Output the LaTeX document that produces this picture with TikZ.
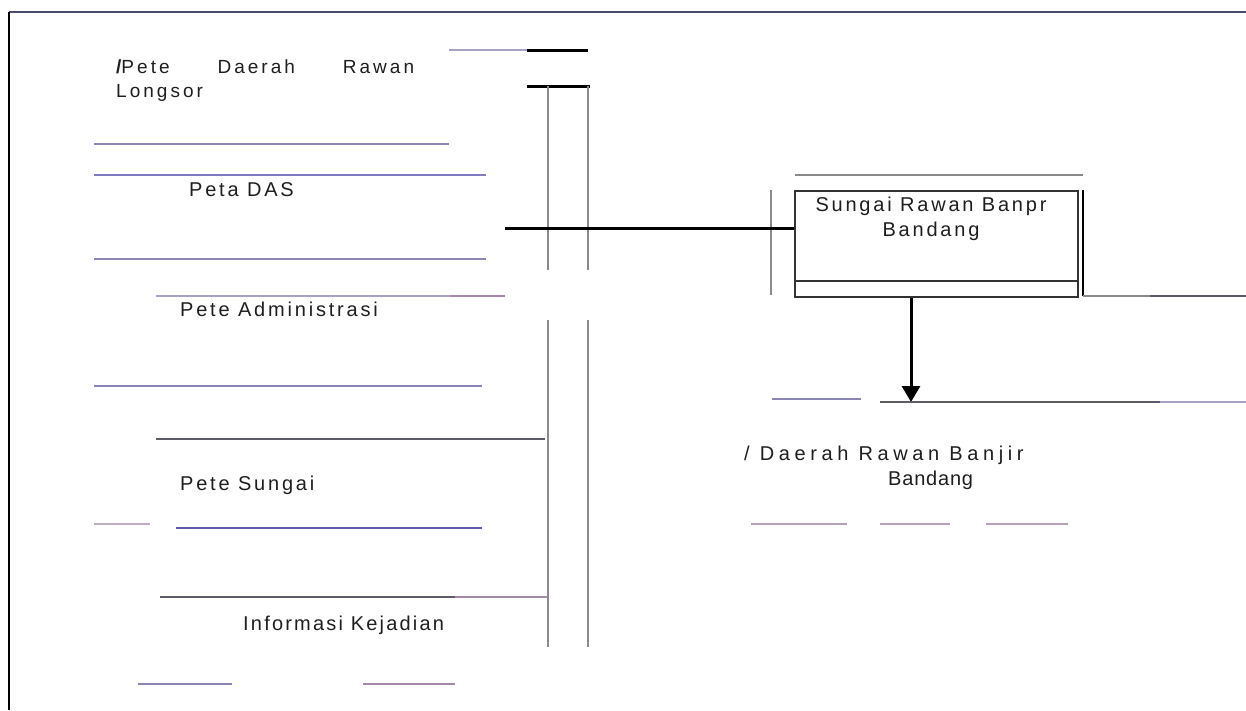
\documentclass[tikz,border=0pt]{standalone}
\usepackage{fontspec}
\setmainfont{Liberation Sans}
\newfontfamily\spaced[LetterSpace=14]{Liberation Sans}
\newfontfamily\tighter[LetterSpace=11]{Liberation Sans}
\newfontfamily\headspaced[LetterSpace=16]{Liberation Sans}
\newfontfamily\widespaced[LetterSpace=23]{Liberation Sans}
\newfontfamily\lightspaced[LetterSpace=4]{Liberation Sans}
\usetikzlibrary{arrows.meta}

\definecolor{frameink}{HTML}{4D4D70}
\definecolor{lavender}{HTML}{A6A2C8}
\definecolor{violet}{HTML}{8985B5}
\definecolor{inkblue}{HTML}{5F5AB0}
\definecolor{mauve}{HTML}{A48AA8}
\definecolor{greyrule}{HTML}{8A8A8A}
\definecolor{darkrule}{HTML}{5C5C66}
\definecolor{textink}{HTML}{1E1E1E}

\begin{document}
\begin{tikzpicture}[x=1pt,y=-1pt,
  rule/.style={line width=1.5pt, line cap=butt},
  heavy/.style={line width=3pt, black},
  lbl/.style={inner sep=0pt, anchor=base west, text=textink,
    font=\spaced\fontsize{20}{24}\selectfont},
  boxline/.style={line width=1.6pt, draw=black!80}]
\useasboundingbox (0,0) rectangle (1246,710);

% page frame
\draw[line width=2.2pt, frameink] (9,12) -- (1246,12);
\draw[line width=2pt, black] (9,12) -- (9,710);

% ---------------- left column: source maps ----------------
\node[lbl, font=\headspaced\fontsize{19}{24}\selectfont, text width=298pt, align=left]
  (longsor) at (116,73) {{\bfseries/}Pete\hfill Daerah\hfill Rawan\\Longsor};
\node[lbl] (das) at (189,196) {Peta DAS};
\node[lbl] (admin) at (180,316) {Pete Administrasi};
\node[lbl] (sungai) at (180,490) {Pete Sungai};
\node[lbl, font=\tighter\fontsize{20}{24}\selectfont] (info) at (243,630) {Informasi Kejadian};

% rules between the entries
\draw[rule, lavender] (449,50) -- (527,50);
\draw[heavy] (527,50) -- (588,50);
\draw[heavy] (527,86) -- (590,86);

\draw[rule, violet] (94,144) -- (449,144);
\draw[rule, inkblue!80, line width=2pt] (94,175) -- (486,175);
\draw[rule, violet!80!mauve] (94,259) -- (486,259);
\draw[rule, lavender] (156,296) -- (450,296);
\draw[rule, mauve] (450,296) -- (505,296);
\draw[rule, violet] (94,386) -- (482,386);
\draw[rule, darkrule, line width=1.8pt] (156,439) -- (545,439);
\draw[rule, mauve!70] (94,524) -- (150,524);
\draw[rule, inkblue, line width=2pt] (176,528) -- (482,528);
\draw[rule, darkrule, line width=1.8pt] (160,597) -- (455,597);
\draw[rule, mauve] (455,597) -- (548,597);
\draw[rule, violet] (138,684) -- (232,684);
\draw[rule, mauve] (363,684) -- (455,684);

% collecting bus (two parallel uprights)
\draw[rule, greyrule] (548,86) -- (548,270);
\draw[rule, greyrule] (588,86) -- (588,270);
\draw[rule, greyrule] (548,320) -- (548,647);
\draw[rule, greyrule] (588,320) -- (588,647);

% ---------------- right side: result boxes ----------------
\node[boxline, draw, anchor=north west, inner sep=0pt,
      minimum width=283pt, minimum height=106pt] (box) at (794,190) {};
\node[inner sep=0pt, anchor=base, align=center, text=textink,
      font=\spaced\fontsize{20}{25}\selectfont]
  (boxtext) at (931,236) {Sungai Rawan Banpr\\Bandang};
\draw[boxline] (794,281) -- (1077,281);
\draw[line width=1.6pt, black] (1083,190) -- (1083,296);
\draw[rule, greyrule, line width=2pt] (795,175) -- (1083,175);
\draw[rule, greyrule] (771,190) -- (771,295);
\draw[rule, greyrule] (1083,296) -- (1150,296);
\draw[rule, darkrule] (1150,296) -- (1246,296);

% feed from the bus into the box
\coordinate (feed) at (505,228);
\draw[heavy] (feed) -- (feed -| box.west);

% output arrow
\coordinate (drop) at (911,402);
\draw[heavy, -{Triangle[width=18pt,length=16pt]}] (drop |- box.south) -- (drop);

\draw[rule, violet] (772,399) -- (861,399);
\draw[rule, darkrule] (880,402) -- (1160,402);
\draw[rule, lavender] (1160,402) -- (1246,402);

\node[inner sep=0pt, anchor=base west, text=textink,
      font=\widespaced\fontsize{20}{24}\selectfont]
  (banjir) at (744,460) {/ Daerah Rawan Banjir};
\node[inner sep=0pt, anchor=base west, text=textink,
      font=\lightspaced\fontsize{20}{24}\selectfont]
  (bandang) at (888,485) {Bandang};

\draw[rule, mauve!80] (751,524) -- (847,524);
\draw[rule, mauve!80] (880,524) -- (950,524);
\draw[rule, mauve!80] (986,524) -- (1068,524);
\end{tikzpicture}
\end{document}
